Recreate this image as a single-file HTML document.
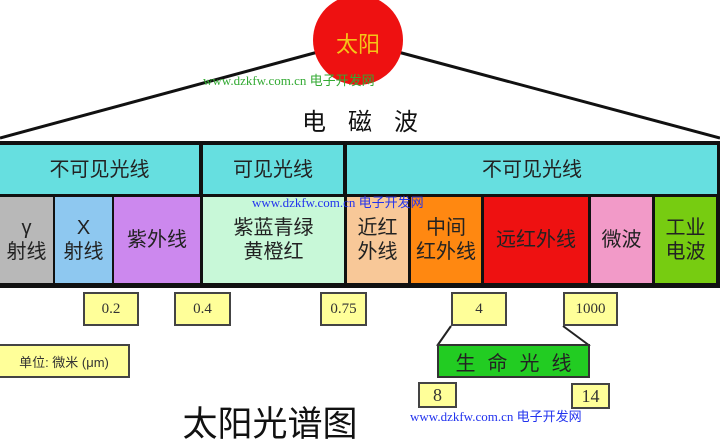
<!DOCTYPE html>
<html><head><meta charset="utf-8"><style>
body{margin:0;width:720px;height:446px;background:#fff;position:relative;overflow:hidden;font-family:"Liberation Sans","Noto Sans CJK SC",sans-serif}
.a{position:absolute;box-sizing:border-box;display:flex;align-items:center;justify-content:center;text-align:center}
.c{font-size:20px;line-height:24px;color:#222}
.y{background:#ffff99;border:2px solid #444;font-family:"Liberation Serif","Noto Serif CJK SC",serif;font-size:15px;color:#333}
.wm{position:absolute;font-family:"Liberation Serif","Noto Sans CJK SC",serif;font-size:13px;white-space:nowrap}
</style></head><body>
<svg width="720" height="446" style="position:absolute;left:0;top:0">
<line x1="0" y1="138" x2="318" y2="52" stroke="#111" stroke-width="3"/>
<line x1="398" y1="52" x2="720" y2="138" stroke="#111" stroke-width="3"/>
<circle cx="358" cy="40" r="45" fill="#ee1111"/>
<rect x="0" y="141" width="720" height="147" fill="#111"/>
<line x1="451" y1="326" x2="437" y2="346" stroke="#222" stroke-width="2"/>
<line x1="563" y1="326" x2="590" y2="346" stroke="#222" stroke-width="2"/>
</svg>
<div class="a" style="left:318px;top:28px;width:80px;height:30px;color:#f5c518;font-size:22px">太阳</div>
<div class="a" style="left:260px;top:102px;width:200px;height:34px;font-size:24px;letter-spacing:22px;color:#111;padding-left:22px">电磁波</div>
<div class="a c" style="left:0;top:145px;width:199px;height:49px;background:#66dfe0">不可见光线</div>
<div class="a c" style="left:203px;top:145px;width:140px;height:49px;background:#66dfe0">可见光线</div>
<div class="a c" style="left:347px;top:145px;width:370px;height:49px;background:#66dfe0">不可见光线</div>
<div class="a c" style="left:0;top:197px;width:53px;height:86px;background:#b8b8b8">γ<br>射线</div>
<div class="a c" style="left:55px;top:197px;width:57px;height:86px;background:#8ec8f0">X<br>射线</div>
<div class="a c" style="left:114px;top:197px;width:86px;height:86px;background:#cc88ee">紫外线</div>
<div class="a c" style="left:203px;top:197px;width:141px;height:86px;background:#c8f8d8">紫蓝青绿<br>黄橙红</div>
<div class="a c" style="left:347px;top:197px;width:61px;height:86px;background:#f8c898">近红<br>外线</div>
<div class="a c" style="left:411px;top:197px;width:70px;height:86px;background:#ff8811">中间<br>红外线</div>
<div class="a c" style="left:484px;top:197px;width:104px;height:86px;background:#ee1111">远红外线</div>
<div class="a c" style="left:591px;top:197px;width:61px;height:86px;background:#f29ac8">微波</div>
<div class="a c" style="left:655px;top:197px;width:61px;height:86px;background:#77cc11">工业<br>电波</div>
<div class="a y" style="left:83px;top:292px;width:56px;height:34px">0.2</div>
<div class="a y" style="left:174px;top:292px;width:57px;height:34px">0.4</div>
<div class="a y" style="left:320px;top:292px;width:47px;height:34px">0.75</div>
<div class="a y" style="left:451px;top:292px;width:56px;height:34px">4</div>
<div class="a y" style="left:563px;top:292px;width:55px;height:34px">1000</div>
<div class="a y" style="left:-2px;top:344px;width:132px;height:34px;font-size:13px;font-family:'Liberation Sans','Noto Sans CJK SC',sans-serif">单位: 微米 (μm)</div>
<div class="a" style="left:437px;top:344px;width:153px;height:34px;background:#22cc22;border:2px solid #333;font-size:20px;letter-spacing:12px;padding-left:12px;color:#222">生命光线</div>
<div class="a y" style="left:418px;top:382px;width:39px;height:26px;font-size:18px">8</div>
<div class="a y" style="left:571px;top:383px;width:39px;height:26px;font-size:18px">14</div>
<div class="a" style="left:175px;top:400px;width:190px;height:42px;font-size:35px;color:#111">太阳光谱图</div>
<div class="wm" style="left:203px;top:70px;color:#33aa33">www.dzkfw.com.cn 电子开发网</div>
<div class="wm" style="left:252px;top:192px;color:#2233ee">www.dzkfw.com.cn 电子开发网</div>
<div class="wm" style="left:410px;top:406px;color:#2233ee">www.dzkfw.com.cn 电子开发网</div>
</body></html>
